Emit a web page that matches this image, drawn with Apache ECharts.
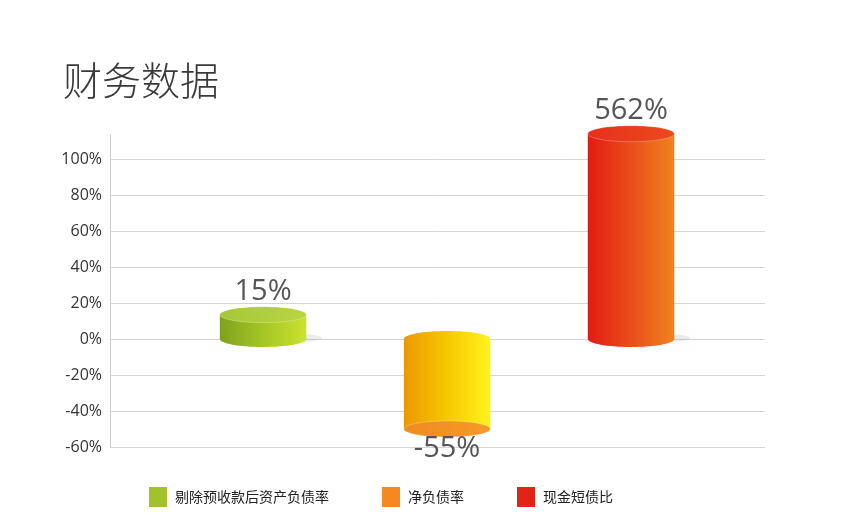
<!DOCTYPE html>
<html>
<head>
<meta charset="utf-8">
<script src="https://cdn.jsdelivr.net/npm/echarts@6/dist/echarts.min.js"></script>
<style>
html,body{margin:0;padding:0;background:#fff;}
#main{width:863px;height:521px;}
</style>
</head>
<body>
<div id="main"></div>
<script>
// ---- data ----
var categories = ['剔除预收款后资产负债率', '净负债率', '现金短债比'];
var positions = [1, 2, 3];
var drawnHeights = [13.5, -50, 114]; // cylinder heights as drawn in the picture (%)
var valueLabels = ['15%', '-55%', '562%'];
var yTicks = [-60, -40, -20, 0, 20, 40, 60, 80, 100];

// ---- styles ----
var styles = [
  {legend: '#a3c12a', body: ['#7ea11c', '#a6c626', '#cbe22e'], cap: ['#a6c73a', '#b9d640']},
  {legend: '#f5891f', body: ['#ec9800', '#f7c800', '#fff31c'], cap: ['#f08a20', '#f59a28']},
  {legend: '#e1231a', body: ['#e31b13', '#ea4d1a', '#f08320'], cap: ['#e6301b', '#ec4a1e']}
];

var BAR_W = 0.47;
var RY = 8;

function grad(cols) {
  return new echarts.graphic.LinearGradient(0, 0, 1, 0, cols.map(function (c, i) {
    return {offset: i / (cols.length - 1), color: c};
  }));
}

function renderItem(params, api) {
  var s = styles[params.seriesIndex];
  var x = api.value(0), v = api.value(1);
  var base = api.coord([x, 0]);
  var end = api.coord([x, v]);
  var w = api.size([BAR_W, 0])[0];
  var rx = w / 2;
  var cx = base[0];
  var top = Math.min(base[1], end[1]);
  var h = Math.abs(base[1] - end[1]);
  var children = [];
  if (v > 0) {
    children.push({
      type: 'ellipse',
      shape: {cx: cx + 16, cy: base[1] - 1, rx: rx, ry: RY - 3},
      style: {fill: 'rgba(0,0,0,0.07)', shadowBlur: 10, shadowColor: 'rgba(0,0,0,0.12)'}
    });
  }
  children.push({
    type: 'ellipse',
    shape: {cx: cx, cy: base[1], rx: rx, ry: RY},
    style: {fill: grad(s.body)}
  });
  children.push({
    type: 'rect',
    shape: {x: cx - rx, y: top, width: w, height: h},
    style: {fill: grad(s.body)}
  });
  children.push({
    type: 'ellipse',
    shape: {cx: cx, cy: end[1], rx: rx, ry: RY},
    style: {fill: grad(s.cap), stroke: 'rgba(255,255,255,0.25)', lineWidth: 1}
  });
  children.push({
    type: 'text',
    x: cx,
    y: v >= 0 ? end[1] - 23 : end[1] + 20,
    style: {
      text: valueLabels[params.seriesIndex],
      fill: '#555555',
      fontSize: 29,
      fontFamily: 'Open Sans',
      fontWeight: 'normal',
      align: 'center',
      verticalAlign: 'middle'
    }
  });
  return {type: 'group', children: children};
}

var series = categories.map(function (name, i) {
  return {
    name: name,
    type: 'custom',
    renderItem: renderItem,
    itemStyle: {color: styles[i].legend},
    data: [[positions[i], drawnHeights[i]]],
    clip: false,
    z: 3
  };
});

var chart = echarts.init(document.getElementById('main'));
chart.setOption({
  animation: false,
  backgroundColor: '#ffffff',
  title: {
    text: '财务数据',
    left: 58,
    top: 56,
    textStyle: {
      fontFamily: 'Noto Sans CJK SC',
      fontWeight: 300,
      fontSize: 39,
      color: '#3a3a3a'
    }
  },
  legend: {
    left: 144,
    top: 482,
    icon: 'rect',
    itemWidth: 18,
    itemHeight: 20,
    itemGap: 53,
    textStyle: {
      fontFamily: 'Noto Sans CJK SC',
      fontSize: 14,
      color: '#222222',
      padding: [0, 0, 0, 3]
    },
    data: categories
  },
  grid: {left: 110, right: 98, top: 135, bottom: 74},
  xAxis: {
    type: 'value',
    min: 0.168,
    max: 3.728,
    show: false
  },
  yAxis: {
    type: 'value',
    min: yTicks[0],
    max: 113.3,
    interval: 20,
    axisLine: {show: true, lineStyle: {color: '#cccccc', width: 1}},
    axisTick: {show: false},
    axisLabel: {
      showMaxLabel: false,
      margin: 8,
      color: '#333333',
      fontSize: 16,
      fontFamily: 'Open Sans',
      formatter: function (val) {
        return yTicks.indexOf(val) >= 0 ? val + '%' : '';
      }
    },
    splitLine: {
      show: true,
      showMaxLine: false,
      lineStyle: {color: '#d6d6d6', width: 1}
    }
  },
  series: series
});
</script>
</body>
</html>
